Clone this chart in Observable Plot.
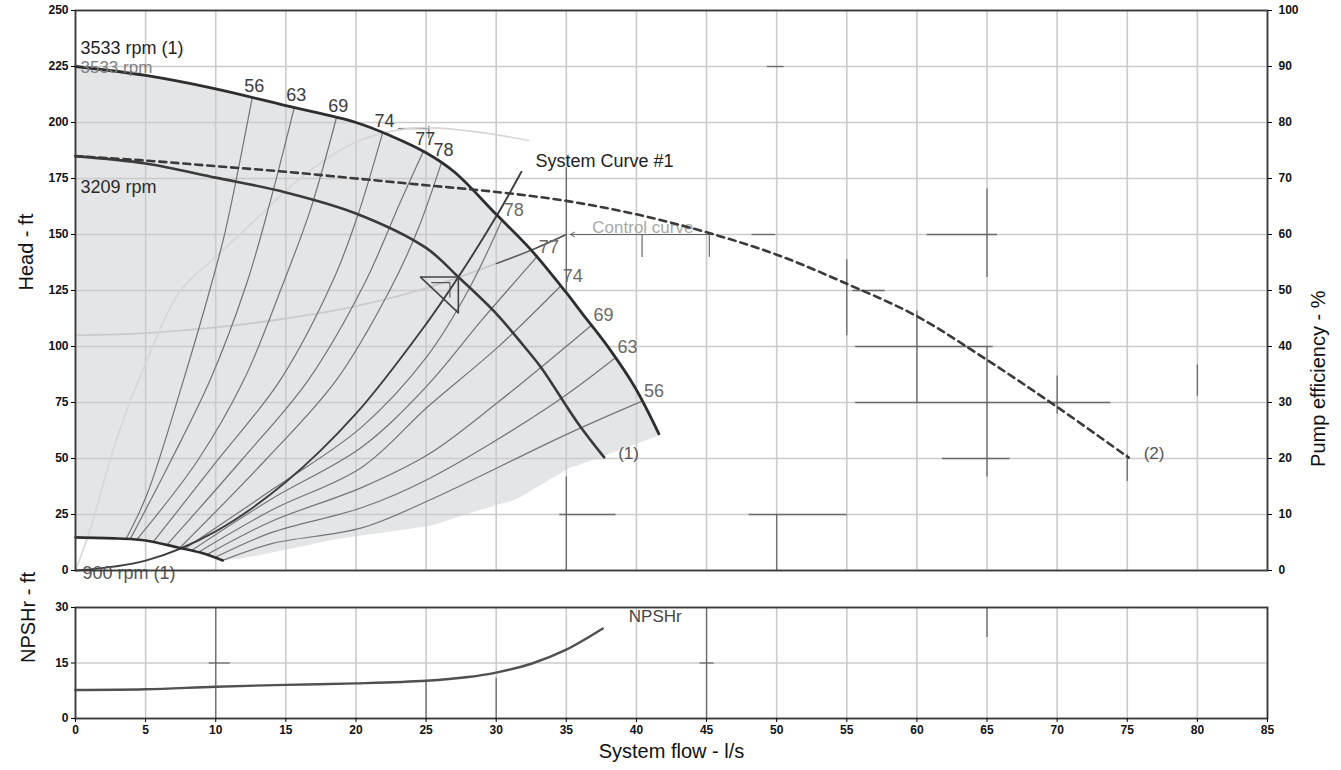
<!DOCTYPE html>
<html><head><meta charset="utf-8">
<script src="https://cdn.jsdelivr.net/npm/d3@7"></script>
<script src="https://cdn.jsdelivr.net/npm/@observablehq/plot@0.6"></script>
<style>
body{margin:0;background:#fff;}
#chart{width:1341px;height:770px;}
#chart svg{display:block;}
</style></head><body><div id="chart"></div>
<script>
// ---- axis ticks ----
const flowTicks = [0,5,10,15,20,25,30,35,40,45,50,55,60,65,70,75,80,85];
const headTicks = [0,25,50,75,100,125,150,175,200,225,250];
const npshTicks = [0,15,30];
const effMax = 100; // right axis 0..100 %

// ---- curves [flow l/s, head ft] ----
const pump3533 = [[0,225],[5,221],[10,215],[15,207.5],[20,200],[22.5,194],[25,186.5],[27,178],[30,159],[32.5,143],[35,124],[36.1,115],[38,99.6],[39.9,81.7],[41.6,61]];
const pump3209 = [[0,185],[5,181.7],[10,175.4],[15,168.8],[20,159.4],[25,144],[27.3,131],[30,114.7],[32,100],[33.2,90.6],[35.8,66],[37.7,50.5]];
const pump900 = [[0,14.8],[3,14.3],[5,13.4],[7.3,10.3],[8.9,8],[10.5,4.5]];
const parallel3209 = [[0,185],[5,183],[10,180.5],[15,178],[20,175],[25,172],[30,169],[35,165],[40,159],[45,151],[50,141],[55,128],[60,113.5],[65,94],[70,73],[75.1,50.4]];
const systemCurve1 = [[0,0],[5,4.4],[10,17.5],[15,39.5],[20,70],[25,110],[27.3,131],[30,158],[31.8,178]];
const controlCurve = [[0,105],[5,106],[10,108.5],[15,112.5],[20,118],[25,126],[30,137],[32.5,143],[35,150]];
const efficiency3533 = [[0,0],[1,7],[3,24],[5,37],[7.5,50],[10,56],[13,63],[16,70],[20,76.5],[24,79],[28,78.5],[32.3,76.8]]; // %
const shadeLowerEdge = [[10.5,4.5],[15,9],[19.6,14.7],[25.1,19.5],[31.6,32],[35.1,45],[41.6,60]];
const operatingPoint = [27.3,131];

// ---- iso-efficiency lines ----
const effLevels = [56,63,69,74,77,78];
const isoLeft = [
  [[3.6,14],[5.1,34],[7.7,85],[9.7,128],[10.7,152],[12.6,211]],
  [[3.9,14],[6.8,49],[9.6,85],[12.2,128],[13.9,165],[15.6,206.6]],
  [[4.4,14],[8.7,49],[12,85],[14.8,128],[16.8,162],[18.6,202]],
  [[5.6,13.2],[10.1,49],[14.6,85],[18.4,130],[20.1,158],[21.9,195.4]],
  [[6.6,12],[11.8,49],[16.6,85],[20.6,128],[23.2,165],[24.8,187]],
  [[7.5,10.5],[13.5,49],[18.6,85],[22.4,125],[24.4,152],[26.1,182.2]]
];
const isoRight = [
  [[10.5,4.5],[14,12],[20.4,19],[25.1,31],[35.1,61],[40.4,75.6]],
  [[10,6],[14,17],[20.4,28],[25.2,41],[33.9,73.7],[38.5,95]],
  [[9.4,7.2],[14,22],[20.4,37],[25.2,52],[30.1,75],[36.8,109.5]],
  [[8.8,8.3],[14,27],[20.4,46],[25.1,73],[30.1,99.6],[34.6,127]],
  [[8.3,9],[14,32],[20.4,55],[25,82],[29,112],[32.9,140]],
  [[7.8,9.8],[14,36],[20.4,64],[25,95],[28,125],[30.4,156.4]]
];

// ---- NPSHr [flow, ft] ----
const npshr = [[0,7.7],[5,7.9],[10,8.6],[15,9.1],[20,9.5],[25,10.2],[28,11.2],[30,12.4],[32.5,14.8],[35,18.6],[37.6,24.3]];

// ---- darker scanned grid fragments [x1,y1,x2,y2] ----
const scanMarksMain = [
  [35,125,35,180],[35,0,35,42],[34.5,25,38.5,25],[40.4,140,40.4,150],[45.2,140,45.2,150],
  [48.2,150,49.9,150],[49.3,225,50.5,225],[50,0,50,25],[48,25,55,25],[55,105,55,139],
  [55.4,125,57.7,125],[55.6,100,65.4,100],[55.6,75,73.8,75],[60,75,60,116],[60.7,150,65.7,150],
  [65,131,65,170.5],[65,42,65,100],[61.8,50,66.6,50],[70,70,70,87],[75,40,75,52],[80,78,80,92],
  [23,197.3,25.2,197.3],[25.2,193,25.2,198.5]
];
const scanMarksNpsh = [[10,0,10,30],[45,0,45,30],[25,0,25,10],[30,0,30,11],[65,22,65,30],[9.5,15,11,15],[44.5,15,45.5,15]];

// ---- derived tables ----
const fx = d => d[0], fy = d => d[1];
const upperS = d3.scaleLinear().domain(pump3533.map(fx)).range(pump3533.map(fy));
const lowerPts = pump900.concat(shadeLowerEdge.slice(1));
const lowerS = d3.scaleLinear().domain(lowerPts.map(fx)).range(lowerPts.map(fy));
const shadeXs = Array.from(new Set(pump3533.map(fx).concat(lowerPts.map(fx)))).sort((a,b)=>a-b);
const shadeRows = shadeXs.map(x => ({flow: x, lo: lowerS(x), hi: upperS(x)}));

const isoRows = [];
effLevels.forEach((e,i) => {
  isoLeft[i].forEach(([flow,head]) => isoRows.push({key: e+"L", flow, head}));
  isoRight[i].forEach(([flow,head]) => isoRows.push({key: e+"R", flow, head}));
});
const topLabels = effLevels.map((e,i) => ({eff: e, flow: isoLeft[i].at(-1)[0], head: isoLeft[i].at(-1)[1]}));
const rightLabels = effLevels.map((e,i) => ({eff: e, flow: isoRight[i].at(-1)[0], head: isoRight[i].at(-1)[1]}));

const [opQ, opH] = operatingPoint;
const opTriangle = [[opQ-2.7,opH],[opQ,opH],[opQ,opH-16],[opQ-2.7,opH]];
const opInner = [[opQ-1.9,opH-2.5],[opQ-0.6,opH-2.5],[opQ-0.6,opH-9]];

const headPerPct = 250 / effMax;
const FONT = "Liberation Sans, Arial, Helvetica, sans-serif";
const tickStyle = {fontSize: 12, fontWeight: "bold", fill: "#111"};
const gridStyle = {stroke: "#cbcbcb", strokeOpacity: 1, strokeWidth: 1.6};
const curveStyle = {x: fx, y: fy, curve: "catmull-rom"};

const main = Plot.plot({
  width: 1341, height: 590,
  marginLeft: 75, marginRight: 74, marginTop: 10, marginBottom: 20,
  style: {fontFamily: FONT, background: "#fff", overflow: "visible"},
  x: {domain: [0,85], axis: null},
  y: {domain: [0,250]},
  marks: [
    Plot.areaY(shadeRows, {x: "flow", y1: "lo", y2: "hi", fill: "#e3e5e7", curve: "monotone-x"}),
    Plot.gridX(flowTicks, gridStyle),
    Plot.gridY(headTicks, gridStyle),
    Plot.link(scanMarksMain, {x1: d=>d[0], y1: d=>d[1], x2: d=>d[2], y2: d=>d[3], stroke: "#5a5a5a", strokeWidth: 1.3, strokeOpacity: 0.85}),
    Plot.line(controlCurve, {...curveStyle, stroke: "#cacaca", strokeWidth: 1.8}),
    Plot.line(controlCurve.slice(-3), {...curveStyle, stroke: "#555", strokeWidth: 1.4}),
    Plot.arrow(controlCurve.slice(-1), {x1: d=>d[0]+10.5, y1: fy, x2: d=>d[0]+0.3, y2: fy, stroke: "#666", strokeWidth: 1, headLength: 7}),
    Plot.text(controlCurve.slice(-1), {x: fx, y: fy, text: () => "Control curve", dx: 26, dy: -7, textAnchor: "start", fontSize: 17, fill: "#a8a8a8"}),
    Plot.line(efficiency3533, {x: fx, y: d => d[1]*headPerPct, curve: "catmull-rom", stroke: "#d6d6d6", strokeWidth: 1.6}),
    Plot.line(isoRows, {x: "flow", y: "head", z: "key", stroke: "#747474", strokeWidth: 1.2, curve: "catmull-rom"}),
    Plot.line(systemCurve1, {...curveStyle, stroke: "#3e3e3e", strokeWidth: 1.9}),
    Plot.line(pump900, {...curveStyle, stroke: "#2e2e2e", strokeWidth: 2.6}),
    Plot.line(pump3209, {...curveStyle, stroke: "#3a3a3a", strokeWidth: 2.6}),
    Plot.line(pump3533, {...curveStyle, stroke: "#2e2e2e", strokeWidth: 2.8}),
    Plot.line(parallel3209, {...curveStyle, stroke: "#3a3a3a", strokeWidth: 2.6, strokeDasharray: "7,5"}),
    Plot.line(opTriangle, {x: fx, y: fy, stroke: "#444", strokeWidth: 1.6, curve: "linear"}),
    Plot.line(opInner, {x: fx, y: fy, stroke: "#555", strokeWidth: 1.1, curve: "linear"}),
    // labels
    Plot.text(pump3533.slice(0,1), {x: fx, y: fy, text: () => "3533 rpm (1)", dx: 5, dy: -18, textAnchor: "start", fontSize: 18, fill: "#1e1e1e"}),
    Plot.text(pump3533.slice(0,1), {x: fx, y: fy, text: () => "3533 rpm", dx: 5, dy: 1, textAnchor: "start", fontSize: 17, fill: "#808080"}),
    Plot.text(pump3209.slice(0,1), {x: fx, y: fy, text: () => "3209 rpm", dx: 5, dy: 31, textAnchor: "start", fontSize: 18, fill: "#2a2a2a"}),
    Plot.text(pump900.slice(0,1), {x: fx, y: fy, text: () => "900 rpm (1)", dx: 7, dy: 36, textAnchor: "start", fontSize: 18, fill: "#555"}),
    Plot.text(pump3209.slice(-1), {x: fx, y: fy, text: () => "(1)", dx: 14, dy: -4, textAnchor: "start", fontSize: 17, fill: "#555"}),
    Plot.text(parallel3209.slice(-1), {x: fx, y: fy, text: () => "(2)", dx: 15, dy: -4, textAnchor: "start", fontSize: 17, fill: "#555"}),
    Plot.text(systemCurve1.slice(-1), {x: fx, y: fy, text: () => "System Curve #1", dx: 14, dy: -11, textAnchor: "start", fontSize: 18, fill: "#1e1e1e"}),
    Plot.text(topLabels, {x: "flow", y: "head", text: d => String(d.eff), dx: 2, dy: -12, fontSize: 18, fill: "#3c3c3c"}),
    Plot.text(rightLabels, {x: "flow", y: "head", text: d => String(d.eff), dx: 2, dy: -10, textAnchor: "start", fontSize: 18, fill: "#6a6a6a"}),
    Plot.frame({stroke: "#3a3a3a", strokeWidth: 1.8}),
    Plot.axisY(headTicks, {anchor: "left", tickSize: 4, tickPadding: 3, label: null, ...tickStyle}),
    Plot.axisY(headTicks, {anchor: "right", tickSize: 4, tickPadding: 7, label: null, tickFormat: d => d/headPerPct, ...tickStyle}),
    Plot.text(["Head - ft"], {frameAnchor: "left", dx: -49, rotate: -90, fontSize: 20, fill: "#111"}),
    Plot.text(["Pump efficiency - %"], {frameAnchor: "right", dx: 51, rotate: -90, fontSize: 20, fill: "#111"})
  ]
});

const lower = Plot.plot({
  width: 1341, height: 180,
  marginLeft: 75, marginRight: 74, marginTop: 17, marginBottom: 52,
  style: {fontFamily: FONT, background: "#fff", overflow: "visible"},
  x: {domain: [0,85]},
  y: {domain: [0,30]},
  marks: [
    Plot.gridX(flowTicks, gridStyle),
    Plot.gridY(npshTicks, gridStyle),
    Plot.link(scanMarksNpsh, {x1: d=>d[0], y1: d=>d[1], x2: d=>d[2], y2: d=>d[3], stroke: "#5a5a5a", strokeWidth: 1.3, strokeOpacity: 0.85}),
    Plot.line(npshr, {...curveStyle, stroke: "#505050", strokeWidth: 2.4}),
    Plot.text(npshr.slice(-1), {x: fx, y: fy, text: () => "NPSHr", dx: 26, dy: -12, textAnchor: "start", fontSize: 17, fill: "#444"}),
    Plot.frame({stroke: "#3a3a3a", strokeWidth: 1.8}),
    Plot.axisX(flowTicks, {anchor: "bottom", tickSize: 4, tickPadding: 3, label: null, ...tickStyle}),
    Plot.axisY(npshTicks, {anchor: "left", tickSize: 4, tickPadding: 3, label: null, ...tickStyle}),
    Plot.text(["System flow - l/s"], {frameAnchor: "bottom", dy: 39, fontSize: 20, fill: "#111"}),
    Plot.text(["NPSHr - ft"], {frameAnchor: "left", dx: -47, rotate: -90, fontSize: 20, fill: "#111"})
  ]
});

document.getElementById("chart").append(main, lower);
</script>
</body></html>
